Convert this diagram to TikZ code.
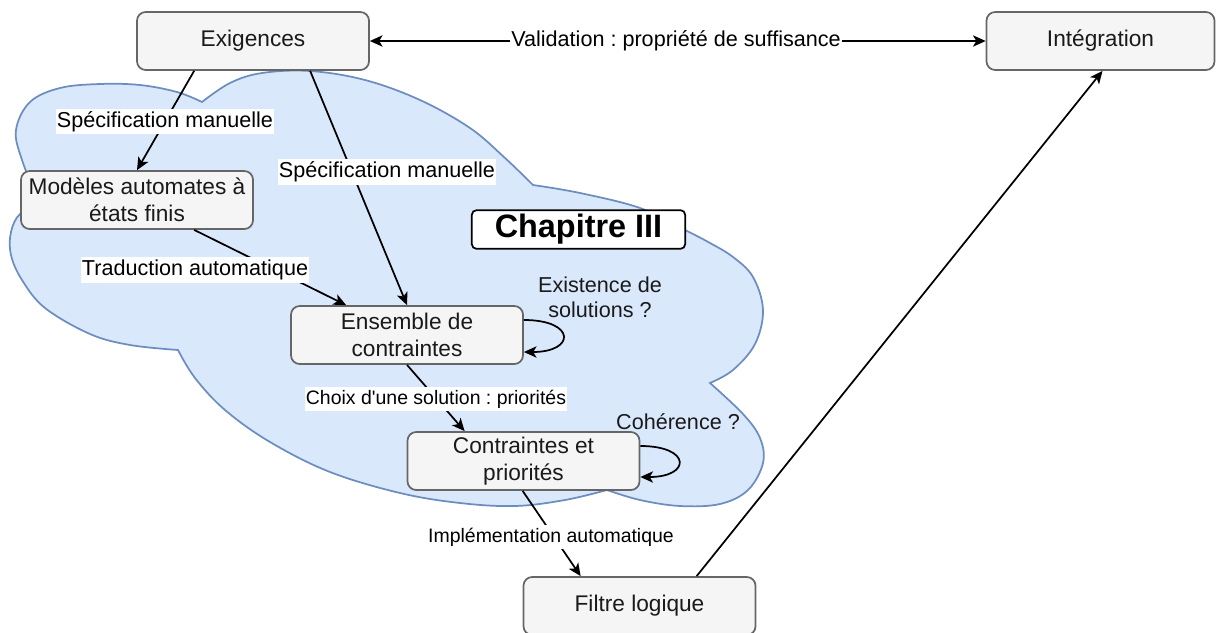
\documentclass[tikz,border=0pt]{standalone}
\usepackage{fontspec}
\setmainfont{Liberation Sans}
\frenchspacing
\usetikzlibrary{arrows.meta,calc}
\definecolor{boxfill}{HTML}{F5F5F5}
\definecolor{boxdraw}{HTML}{666666}
\definecolor{boxtext}{HTML}{1A1A1A}
\definecolor{cloudfill}{HTML}{DAE8FC}
\definecolor{clouddraw}{HTML}{6C8EBF}
\tikzset{
  box/.style={draw=boxdraw, fill=boxfill, line width=1.3pt, rounded corners=6.5pt,
    minimum width=174pt, minimum height=43.5pt, inner sep=0pt, align=center,
    text=boxtext, font=\fontsize{17pt}{20pt}\selectfont},
  chapbox/.style={draw=black, fill=white, line width=1.3pt, rounded corners=3.5pt,
    minimum width=160pt, minimum height=29pt, inner sep=0pt,
    font=\fontsize{24.3pt}{28pt}\selectfont\bfseries},
  lbl/.style={fill=white, inner xsep=1pt, inner ysep=2pt, text=black,
    font=\fontsize{16.2pt}{19pt}\selectfont},
  lblsmall/.style={fill=white, inner xsep=1pt, inner ysep=2pt, text=black,
    font=\fontsize{14.6pt}{18pt}\selectfont},
  freelbl/.style={inner sep=0pt, align=center, text=boxtext,
    font=\fontsize{16.2pt}{19pt}\selectfont},
  conn/.style={line width=1.3pt, draw=black},
  cloudshape/.style={fill=cloudfill, draw=clouddraw, line width=1.3pt},
  >={Stealth[length=9.5pt,width=8.5pt,inset=2.5pt]}
}
\begin{document}
\begin{tikzpicture}[x=0.75pt,y=-0.75pt]
\useasboundingbox (0,0) rectangle (1216,632);

% cloud
\path[cloudshape]
  plot[smooth,tension=0.6] coordinates {(202,102) (177,92) (140,85) (100,84) (60,88) (30,102) (16,130) (22,160) (40,205)}
  -- plot[smooth,tension=0.6] coordinates {(40,205) (20,214) (11,232) (11,255) (22,280) (45,308) (90,334) (130,345) (178,350)}
  -- plot[smooth,tension=0.6] coordinates {(178,350) (195,378) (225,410) (270,442) (330,472) (400,493) (460,503) (515,506) (565,500) (607,490)}
  -- plot[smooth,tension=0.6] coordinates {(607,490) (640,500) (680,506) (720,504) (748,490) (763,463) (760,438) (743,414) (710,383)}
  -- plot[smooth,tension=0.6] coordinates {(710,383) (733,370) (755,344) (763,310) (753,277) (733,257) (710,243) (685,230) (640,208) (580,193) (533,185)}
  -- plot[smooth,tension=0.6] coordinates {(533,185) (505,158) (470,128) (420,100) (365,80) (310,71) (262,73) (230,83) (202,102)}
  -- cycle;

% nodes
\node[box] (exi) at (253,41) {Exigences};
\node[box, minimum width=171pt] (int) at (1100.5,41) {Intégration};
\node[box] (mod) at (137,200) {Modèles automates à\\états finis};
\node[box] (ens) at (407,335) {Ensemble de\\contraintes};
\node[box] (con) at (523.5,461) {Contraintes et\\priorités};
\node[box] (fil) at (639.5,606) {Filtre logique};
\node[chapbox] (chap) at (578.5,229.5) {Chapitre III};

% connectors
\draw[conn,<->] (exi.east) -- (int.west);
\draw[conn,->] ($(exi.south west)+(58,0)$) -- (mod.north);
\draw[conn,->] ($(exi.south west)+(174,0)$) -- (ens.north);
\draw[conn,->] ($(mod.south west)+(174,0)$) -- ($(ens.north west)+(56,0)$);
\draw[conn,->] (ens.south) -- ($(con.north west)+(58,0)$);
\draw[conn,->] ($(con.south west)+(116,0)$) -- ($(fil.north west)+(58,0)$);
\draw[conn,->] ($(fil.north west)+(174,0)$) -- ($(int.south)+(2,0)$);
\draw[conn,->] ($(ens.east)+(0,-15)$) .. controls +(52,0) and +(52,0) .. ($(ens.east)+(0,17)$);
\draw[conn,->] ($(con.east)+(0,-15)$) .. controls +(51,0) and +(51,0) .. ($(con.east)+(0,16)$);

% labels
\node[lbl] (l6) at (676,41) {Validation : propriété de suffisance};
\node[lbl] (l1) at (165,121.5) {Spécification manuelle};
\node[lbl] (l2) at (387,172) {Spécification manuelle};
\node[lbl] (l3) at (195,270) {Traduction automatique};
\node[lblsmall] (l4) at (436,399) {Choix d\textquotesingle une solution : priorités};
\node[lblsmall] (l5) at (551,537) {Implémentation automatique};
\node[freelbl] (l7) at (600,297) {Existence de\\solutions ?};
\node[freelbl] (l8) at (678,422) {Cohérence ?};
\end{tikzpicture}
\end{document}
